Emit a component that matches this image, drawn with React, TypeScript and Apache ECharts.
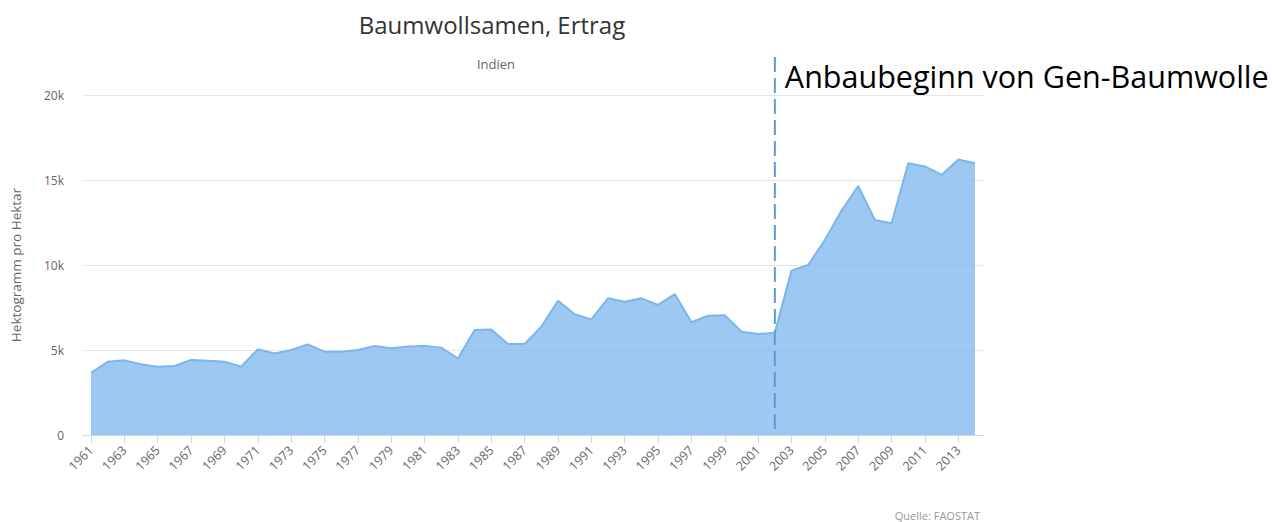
import React, { useEffect, useRef } from "react";
import * as echarts from "echarts";

const years = [
  1961, 1962, 1963, 1964, 1965, 1966, 1967, 1968, 1969, 1970,
  1971, 1972, 1973, 1974, 1975, 1976, 1977, 1978, 1979, 1980,
  1981, 1982, 1983, 1984, 1985, 1986, 1987, 1988, 1989, 1990,
  1991, 1992, 1993, 1994, 1995, 1996, 1997, 1998, 1999, 2000,
  2001, 2002, 2003, 2004, 2005, 2006, 2007, 2008, 2009, 2010,
  2011, 2012, 2013, 2014,
];

const yieldValues = [
  3650, 4310, 4390, 4160, 4020, 4060, 4410, 4370, 4310, 4020,
  5040, 4800, 5000, 5330, 4900, 4900, 5000, 5240, 5100, 5200,
  5240, 5140, 4500, 6180, 6200, 5350, 5350, 6370, 7900, 7100,
  6800, 8040, 7840, 8040, 7650, 8290, 6630, 7020, 7040, 6080,
  5940, 6020, 9670, 10000, 11470, 13200, 14650, 12650, 12450, 15980,
  15800, 15300, 16200, 15980,
];

const tickYears = years.filter((_, i) => i % 2 === 0);
const gmStartYear = 2002;

const titleText = "Baumwollsamen, Ertrag";
const subtitleText = "Indien";
const yAxisName = "Hektogramm pro Hektar";
const annotationText = "Anbaubeginn von Gen-Baumwolle";
const sourceText = "Quelle: FAOSTAT";

const FONT = "'Open Sans', 'DejaVu Sans', sans-serif";

export default function App() {
  const ref = useRef<HTMLDivElement>(null);

  useEffect(() => {
    if (!ref.current) return;
    const chart = echarts.init(ref.current, null, { renderer: "svg" });
    const data = years.map((y, i) => [y, yieldValues[i]]);

    chart.setOption({
      animation: false,
      backgroundColor: "#ffffff",
      textStyle: { fontFamily: FONT },
      title: [
        {
          text: titleText,
          left: 487,
          top: 7,
          textAlign: "center",
          textStyle: { fontSize: 24, fontWeight: "normal", color: "#333333", fontFamily: FONT },
        },
        {
          text: subtitleText,
          left: 491,
          top: 52,
          textAlign: "center",
          textStyle: { fontSize: 13, fontWeight: "normal", color: "#666666", fontFamily: FONT },
        },
      ],
      grid: { left: 83, right: 298, top: 95, bottom: 87, containLabel: false },
      xAxis: {
        type: "value",
        min: 1960.52,
        max: 2014.48,
        axisLine: { show: true, lineStyle: { color: "#ccd6eb", width: 1 } },
        axisTick: { show: true, customValues: tickYears, length: 8, lineStyle: { color: "#ccd6eb" } },
        axisLabel: {
          customValues: tickYears,
          rotate: 45,
          color: "#666666",
          fontSize: 12.5,
          margin: 13,
          formatter: (v: number) => String(v),
        },
        splitLine: { show: false },
      },
      yAxis: {
        type: "value",
        min: 0,
        max: 20000,
        interval: 5000,
        name: yAxisName,
        nameLocation: "middle",
        nameGap: 60,
        nameTextStyle: { color: "#666666", fontSize: 13.5, fontFamily: FONT },
        axisLine: { show: false },
        axisTick: { show: false },
        axisLabel: {
          color: "#666666",
          fontSize: 12,
          margin: 19,
          formatter: (v: number) => (v === 0 ? "0" : v / 1000 + "k"),
        },
        splitLine: { show: true, lineStyle: { color: "#e6e6e6", width: 1 } },
      },
      series: [
        {
          type: "line",
          data,
          symbol: "none",
          lineStyle: { color: "#7cb5ec", width: 2 },
          areaStyle: { color: "#7cb5ec", opacity: 0.75 },
          z: 2,
        },
      ],
    });

    const gx = chart.convertToPixel({ xAxisIndex: 0 }, gmStartYear) as number;
    const gy0 = chart.convertToPixel({ yAxisIndex: 0 }, 0) as number;

    chart.setOption({
      graphic: [
        {
          type: "line",
          z: 10,
          shape: { x1: gx, y1: 57, x2: gx, y2: gy0 },
          style: { stroke: "#5b9bd5", lineWidth: 2, lineDash: [15, 6] },
        },
        {
          type: "text",
          z: 10,
          x: gx + 10,
          y: 76,
          style: {
            text: annotationText,
            fill: "#000000",
            fontSize: 30.5,
            fontFamily: FONT,
            verticalAlign: "middle",
          },
        },
        {
          type: "text",
          z: 10,
          x: 980,
          y: 515,
          style: {
            text: sourceText,
            fill: "#999999",
            fontSize: 11,
            fontFamily: FONT,
            align: "right",
            verticalAlign: "middle",
          },
        },
      ],
    });

    return () => chart.dispose();
  }, []);

  return (
    <div
      ref={ref}
      style={{ position: "fixed", left: 0, top: 0, width: 1281, height: 522 }}
    />
  );
}
